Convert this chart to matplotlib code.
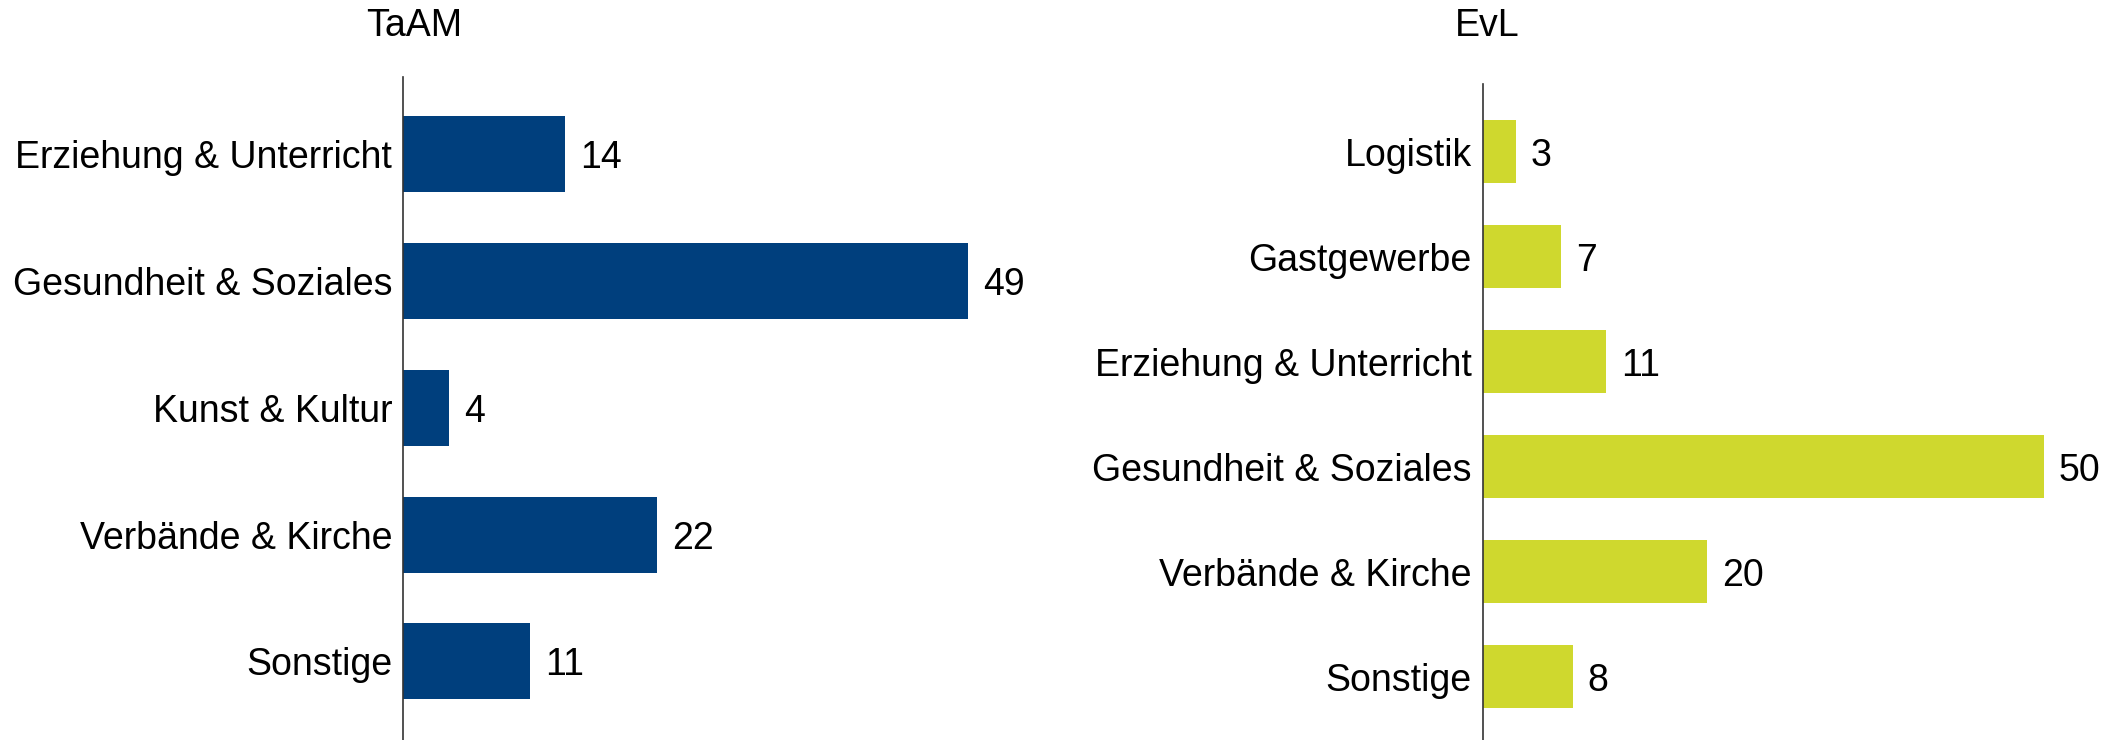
import matplotlib
matplotlib.use("Agg")
import matplotlib.pyplot as plt

plt.rcParams["font.family"] = ["Liberation Sans", "DejaVu Sans"]

# TaAM
taam_labels = ["Erziehung & Unterricht", "Gesundheit & Soziales", "Kunst & Kultur",
    "Verbände & Kirche", "Sonstige"]
taam_values = [14, 49, 4, 22, 11]

# EvL
evl_labels = ["Logistik", "Gastgewerbe", "Erziehung & Unterricht",
    "Gesundheit & Soziales", "Verbände & Kirche", "Sonstige"]
evl_values = [3, 7, 11, 50, 20, 8]

BLUE = "#003f7d"
LIME = "#cfd82e"
FONTSIZE = 27

fig = plt.figure(figsize=(21.23, 7.4), dpi=100)
ax_l = fig.add_axes([0.190, 0.0, 0.2985, 0.896])
ax_r = fig.add_axes([0.6984, 0.0, 0.291, 0.886])

panels = [
    (ax_l, taam_labels, taam_values, BLUE, (4.62, -0.61)),
    (ax_r, evl_labels, evl_values, LIME, (5.6, -0.64)),
]

for ax, labels, values, color, ylim in panels:
    ypos = list(range(len(labels)))
    ax.barh(ypos, values, height=0.6, color=color, edgecolor="none")
    for y, v in zip(ypos, values):
        ax.text(v + 1.3, y, str(v), va="center_baseline", ha="left",
            fontsize=FONTSIZE, color="black")
    ax.set_ylim(*ylim)
    ax.set_xlim(0, 55)
    ax.set_yticks(ypos)
    ax.set_yticklabels(labels, fontsize=FONTSIZE, va="center_baseline")
    ax.tick_params(axis="y", length=0, pad=8)
    ax.tick_params(axis="x", bottom=False, labelbottom=False)
    for side in ["top", "right", "bottom"]:
        ax.spines[side].set_visible(False)
    ax.spines["left"].set_color("#333333")
    ax.spines["left"].set_linewidth(1.2)

fig.text(414 / 2123, 1 - 26 / 740, "TaAM", ha="center", va="center", fontsize=FONTSIZE)
fig.text(1487 / 2123, 1 - 26 / 740, "EvL", ha="center", va="center", fontsize=FONTSIZE)

fig.savefig("out.png", dpi=100)
plt.close(fig)
